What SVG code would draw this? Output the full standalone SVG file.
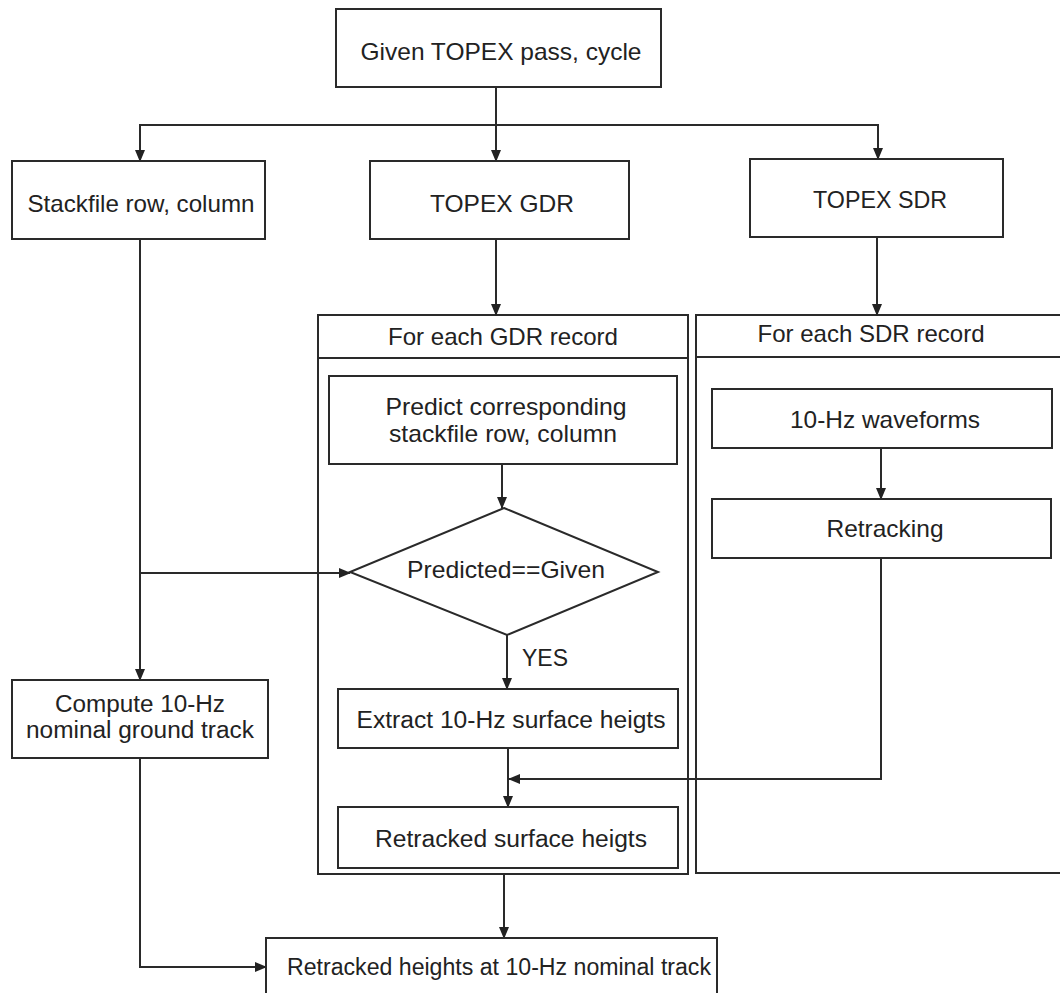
<svg xmlns="http://www.w3.org/2000/svg" width="1060" height="993" viewBox="0 0 1060 993">
<style>
.box{fill:#fff;stroke:#2a2a2a;stroke-width:2}
.cont{fill:none;stroke:#2a2a2a;stroke-width:2}
.t{font-family:"Liberation Sans",Arial,sans-serif;font-size:23px;fill:#222;text-anchor:middle}
.l{font-size:24px}
.c{fill:none;stroke:#2a2a2a;stroke-width:2}
</style>
<defs>
<marker id="ah" markerUnits="userSpaceOnUse" markerWidth="12" markerHeight="10" refX="11" refY="5" orient="auto">
<path d="M0,0 L12,5 L0,10 z" fill="#222"/>
</marker>
</defs>
<rect width="1060" height="993" fill="#fff"/>

<g id="gdr-loop">
<rect class="cont" x="318" y="315" width="370" height="559"/>
<line class="cont" x1="318" y1="358" x2="688" y2="358"/>
<text class="t l" x="503" y="345" textLength="230" lengthAdjust="spacingAndGlyphs">For each GDR record</text>
</g>
<g id="sdr-loop">
<path class="cont" d="M1070,315 H696 V873 H1070"/>
<line class="cont" x1="696" y1="357" x2="1070" y2="357"/>
<text class="t l" x="871" y="342" textLength="227" lengthAdjust="spacingAndGlyphs">For each SDR record</text>
</g>

<g id="connectors">
<line class="c" x1="496" y1="87" x2="496" y2="161" marker-end="url(#ah)"/>
<path class="c" d="M140,161 V125 H878 V159" marker-end="url(#ah)"/>
<line class="c" x1="140" y1="125" x2="140" y2="161" marker-end="url(#ah)"/>
<line class="c" x1="496" y1="239" x2="496" y2="315" marker-end="url(#ah)"/>
<line class="c" x1="877" y1="237" x2="877" y2="315" marker-end="url(#ah)"/>
<line class="c" x1="502" y1="464" x2="502" y2="508" marker-end="url(#ah)"/>
<line class="c" x1="140" y1="239" x2="140" y2="680" marker-end="url(#ah)"/>
<line class="c" x1="140" y1="573" x2="350" y2="573" marker-end="url(#ah)"/>
<line class="c" x1="507" y1="635" x2="507" y2="689" marker-end="url(#ah)"/>
<line class="c" x1="508" y1="748" x2="508" y2="807" marker-end="url(#ah)"/>
<line class="c" x1="881" y1="448" x2="881" y2="499" marker-end="url(#ah)"/>
<path class="c" d="M881,558 V779 H509" marker-end="url(#ah)"/>
<line class="c" x1="504" y1="874" x2="504" y2="938" marker-end="url(#ah)"/>
<path class="c" d="M140,758 V967 H266" marker-end="url(#ah)"/>
</g>

<g id="given">
<rect class="box" x="336" y="9" width="325" height="78"/>
<text class="t l" x="501" y="60" textLength="281" lengthAdjust="spacingAndGlyphs">Given TOPEX pass, cycle</text>
</g>
<g id="stackfile">
<rect class="box" x="12" y="161" width="253" height="78"/>
<text class="t l" x="141" y="212" textLength="227" lengthAdjust="spacingAndGlyphs">Stackfile row, column</text>
</g>
<g id="topex-gdr">
<rect class="box" x="370" y="161" width="259" height="78"/>
<text class="t l" x="502" y="212" textLength="144" lengthAdjust="spacingAndGlyphs">TOPEX GDR</text>
</g>
<g id="topex-sdr">
<rect class="box" x="750" y="159" width="253" height="78"/>
<text class="t l" x="880" y="208" textLength="134" lengthAdjust="spacingAndGlyphs">TOPEX SDR</text>
</g>
<g id="predict">
<rect class="box" x="329" y="376" width="348" height="88"/>
<text class="t l" x="506" y="415" textLength="241" lengthAdjust="spacingAndGlyphs">Predict corresponding</text>
<text class="t l" x="503" y="442" textLength="228" lengthAdjust="spacingAndGlyphs">stackfile row, column</text>
</g>
<g id="decision">
<polygon class="box" points="504,508 658,572 507,635 350,572"/>
<text class="t l" x="506" y="578" textLength="198" lengthAdjust="spacingAndGlyphs">Predicted==Given</text>
</g>
<g id="yes-label">
<text class="t" x="545" y="666" textLength="46" lengthAdjust="spacingAndGlyphs">YES</text>
</g>
<g id="extract">
<rect class="box" x="338" y="689" width="340" height="59"/>
<text class="t" x="511" y="728" textLength="309" lengthAdjust="spacingAndGlyphs">Extract 10-Hz surface heigts</text>
</g>
<g id="retracked-surface">
<rect class="box" x="338" y="807" width="340" height="61"/>
<text class="t" x="511" y="847" textLength="272" lengthAdjust="spacingAndGlyphs">Retracked surface heigts</text>
</g>
<g id="waveforms">
<rect class="box" x="712" y="389" width="340" height="59"/>
<text class="t l" x="885" y="428" textLength="190" lengthAdjust="spacingAndGlyphs">10-Hz waveforms</text>
</g>
<g id="retracking">
<rect class="box" x="712" y="499" width="339" height="59"/>
<text class="t l" x="885" y="537" textLength="117" lengthAdjust="spacingAndGlyphs">Retracking</text>
</g>
<g id="compute">
<rect class="box" x="12" y="680" width="256" height="78"/>
<text class="t" x="140" y="712" textLength="170" lengthAdjust="spacingAndGlyphs">Compute 10-Hz</text>
<text class="t" x="140" y="738" textLength="228" lengthAdjust="spacingAndGlyphs">nominal ground track</text>
</g>
<g id="final">
<rect class="box" x="266" y="938" width="451" height="70"/>
<text class="t" x="499" y="975" textLength="424" lengthAdjust="spacingAndGlyphs">Retracked heights at 10-Hz nominal track</text>
</g>
</svg>
